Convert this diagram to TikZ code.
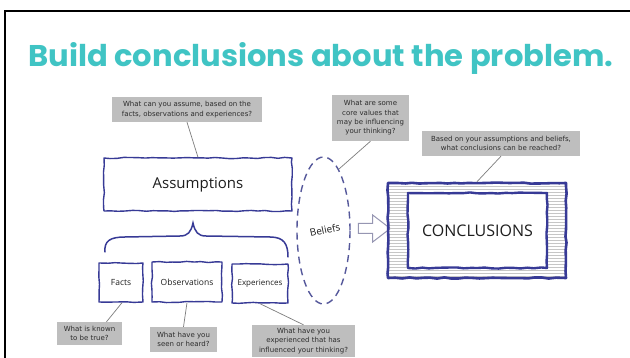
\documentclass[tikz,border=0pt]{standalone}
\usepackage{fontspec}
\setmainfont{DejaVu Sans}
\newfontfamily\titlefont{Poppins}
\newfontfamily\handfont{Open Sans}
\newfontfamily\notefont{DejaVu Sans}
\usetikzlibrary{shapes.geometric,shapes.arrows,decorations.pathmorphing}

\definecolor{titleteal}{RGB}{64,196,196}
\definecolor{boxblue}{RGB}{55,58,150}
\definecolor{dashblue}{RGB}{85,88,155}
\definecolor{arrowgray}{RGB}{150,150,178}
\definecolor{notegray}{RGB}{190,190,190}
\definecolor{notetext}{RGB}{45,45,45}
\definecolor{conngray}{RGB}{125,125,125}
\definecolor{hatchgray}{RGB}{198,198,198}
\definecolor{inkblack}{RGB}{30,30,30}

\begin{document}
\begin{tikzpicture}[
  x=1pt, y=-1pt,
  note/.style={fill=notegray, text=notetext, align=center, inner sep=0pt,
    font=\notefont\fontsize{7}{9.3}\selectfont},
  sketch/.style={draw=boxblue, line width=1.4pt, decorate,
    decoration={random steps, segment length=7pt, amplitude=0.6pt},
    line join=round, inner sep=0pt, text=inkblack},
  conn/.style={draw=conngray, line width=0.7pt},
  hatch/.style={draw=hatchgray, line width=0.45pt},
  bracestroke/.style={draw=boxblue, line width=1.5pt, line cap=round}
]
\pgfmathsetseed{7}
\useasboundingbox (0,0) rectangle (630,358);
\fill[white] (0,0) rectangle (630,358);

% frame along the top and left edges
\draw[line width=2.5pt] (5,358) -- (5,11) -- (630,11);

% heading
\node[anchor=base west, inner sep=0pt, text=titleteal] (title) at (28,67)
  {\resizebox{585pt}{24pt}{\titlefont\bfseries Build conclusions about the problem.}};

% question notes
\node[note, minimum width=150pt, minimum height=25pt] (g1) at (187,109.5)
  {What can you assume, based on the\\facts, observations and experiences?};
\node[note, minimum width=77pt, minimum height=46pt] (g2) at (370.5,118)
  {What are some\\core values that\\may be influencing\\your thinking?};
\node[note, minimum width=158pt, minimum height=25pt] (g3) at (501,143.5)
  {Based on your assumptions and beliefs,\\what conclusions can be reached?};
\node[note, minimum width=65pt, minimum height=23pt] (g4) at (89.5,333.5)
  {What is known\\to be true?};
\node[note, minimum width=67pt, minimum height=25pt] (g5) at (183.5,339.5)
  {What have you\\seen or heard?};
\node[note, minimum width=103pt, minimum height=32pt] (g6) at (303.5,341)
  {What have you\\experienced that has\\influenced your thinking?};

% assumptions and the three sources
\node[sketch, minimum width=188pt, minimum height=53pt,
  font=\handfont\fontsize{15}{18}\selectfont] (assump) at (198,184.5) {Assumptions};
\node[sketch, minimum width=44pt, minimum height=39pt,
  font=\handfont\fontsize{8.5}{10}\selectfont] (facts) at (121,282.5) {Facts};
\node[sketch, minimum width=70pt, minimum height=40pt,
  font=\handfont\fontsize{8.5}{10}\selectfont] (obs) at (187,282) {Observations};
\node[sketch, minimum width=56pt, minimum height=39pt,
  font=\handfont\fontsize{8}{10}\selectfont] (exper) at (260,283.5) {Experiences};

% curly brace grouping the sources
\draw[bracestroke] (105,252) .. controls (104,241) and (110,237) .. (125,237)
  -- (180,236) .. controls (188,236) and (191,232) .. (193,223)
  .. controls (195,232) and (198,236) .. (206,236)
  -- (270,237) .. controls (284,237) and (288,244) .. (288,257);

% beliefs
\node[ellipse, draw=dashblue, line width=1.4pt, dash pattern=on 7pt off 5pt,
  minimum width=53pt, minimum height=147pt, inner sep=0pt] (beliefs) at (323.5,230.5) {};
\node[rotate=12, inner sep=0pt, text=inkblack,
  font=\handfont\fontsize{10}{12}\selectfont] (belieflabel) at (325,230) {Beliefs};

% hollow arrow
\node[single arrow, draw=arrowgray, line width=1pt, fill=white, inner sep=4.5pt,
  minimum height=32pt, single arrow head extend=8.5pt, single arrow tip angle=75,
  single arrow head indent=0pt] (arrow) at (371,228.5) {};

% conclusions: hatched frame around an inner box
\foreach \yy in {186,189,...,276} \draw[hatch] (389,\yy) -- (565,\yy);
\node[sketch, line width=2.6pt, minimum width=178pt, minimum height=95pt] (concl) at (477,230.5) {};
\node[sketch, line width=2.4pt, fill=white, minimum width=139pt, minimum height=75pt,
  font=\handfont\fontsize{16}{18}\selectfont] (conclin) at (477.5,230.5) {CONCLUSIONS};

% leader lines
\draw[conn] (g1.south) -- (assump.north);
\draw[conn] (g2.south) -- (beliefs.76);
\draw[conn] (g3.south) -- (concl.north);
\draw[conn] ([xshift=1pt]facts.south) -- ([xshift=17pt]g4.north);
\draw[conn] (obs.south) -- (g5.north);
\draw[conn] (exper.south) -- (g6.north);
\end{tikzpicture}
\end{document}
